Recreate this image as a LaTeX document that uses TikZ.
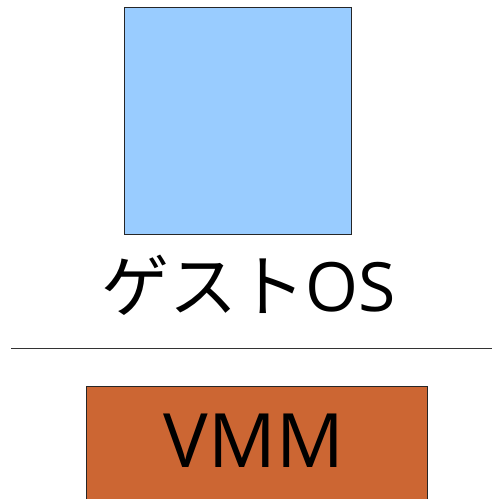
\documentclass[tikz,border=0pt]{standalone}
\usepackage{fontspec}
\newfontfamily\cjk{Noto Sans CJK JP}
\newfontfamily\lat{Open Sans}
\begin{document}
\begin{tikzpicture}[x=1pt,y=-1pt,
  box/.style={draw=black!85, line width=0.8pt},
  lbl/.style={inner sep=0pt, anchor=base}]
\useasboundingbox (0,0) rectangle (492,499);
\fill[white] (0,0) rectangle (492,499);
\draw[box, fill={rgb,255:red,153;green,204;blue,255}] (124,7.5) rectangle (351,234.5);
\node[lbl, font=\fontsize{68}{68}\selectfont] (guest) at (248.5,311) {{\cjk ゲスト}{\lat OS}};
\coordinate (la) at (11,348);
\coordinate (lb) at (492,348);
\draw[line width=0.9pt, black!80] (la) -- (lb);
\draw[box, fill={rgb,255:red,204;green,102;blue,51}] (86.5,386) rectangle (427,500);
\node[lbl, font=\lat\fontsize{75}{75}\selectfont] (vmm) at (254,467) {VMM};
\end{tikzpicture}
\end{document}
